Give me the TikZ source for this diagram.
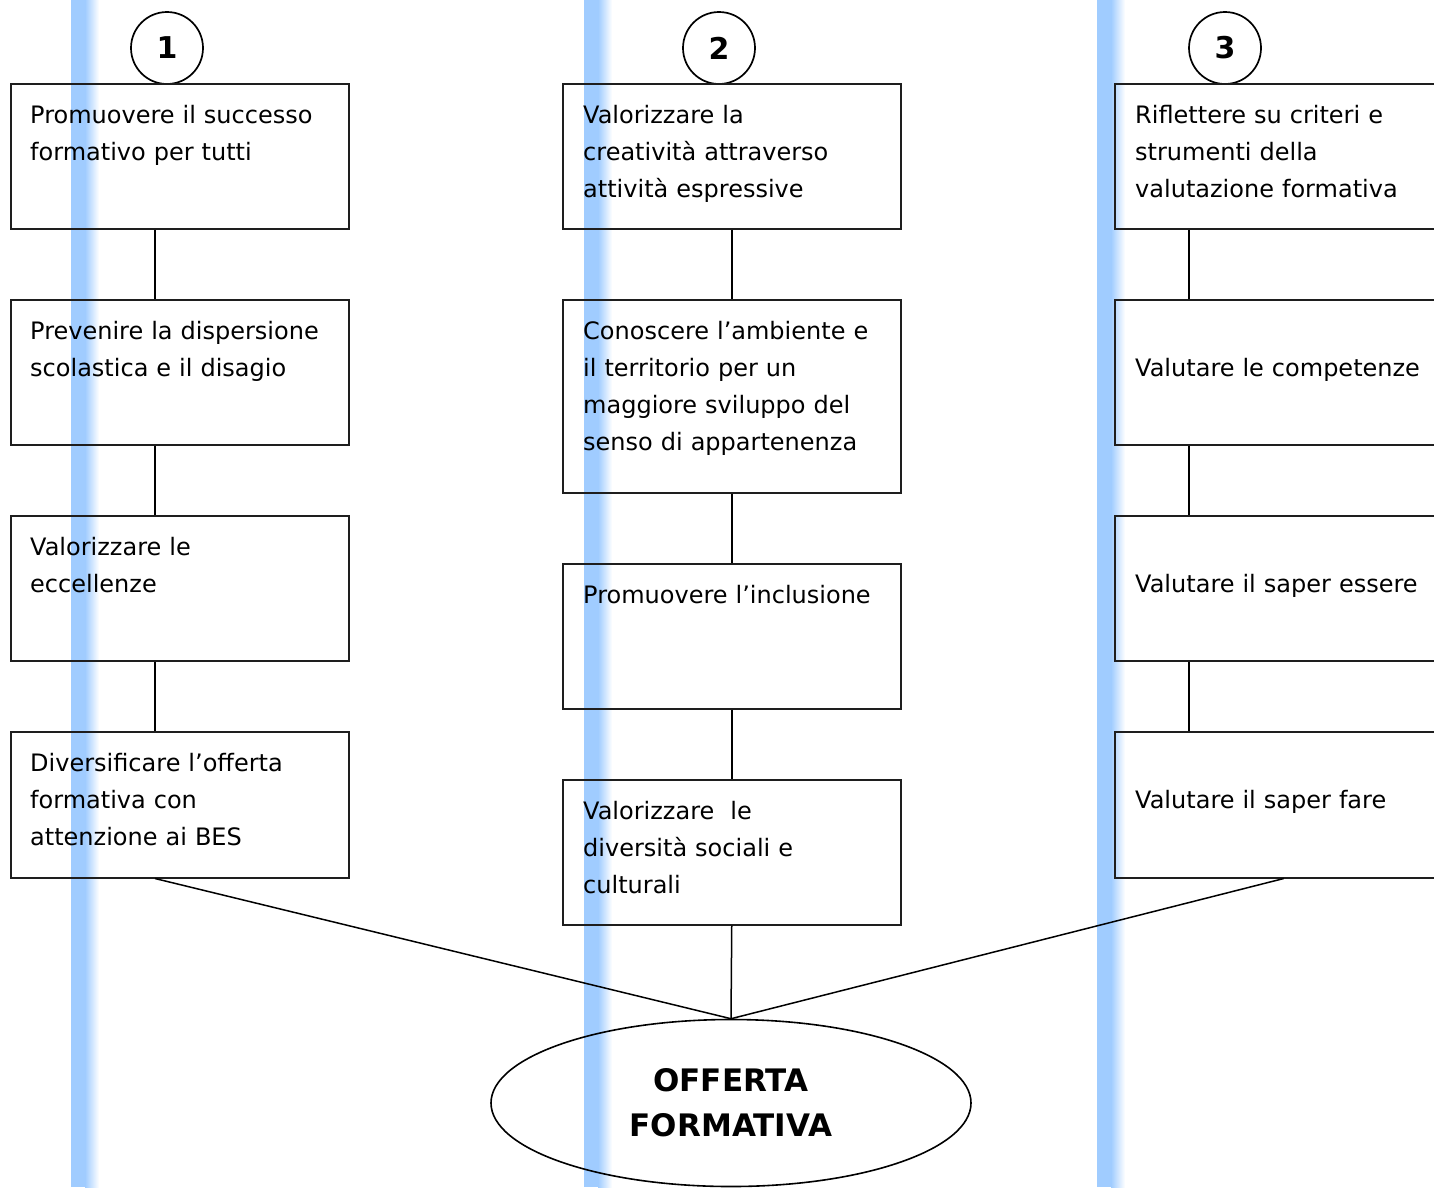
\documentclass[tikz,border=0pt]{standalone}
\usepackage{fontspec}
\setmainfont{DejaVu Sans}
\usetikzlibrary{calc,shapes.geometric}
\definecolor{stripeblue}{RGB}{160,204,255}
\definecolor{edge}{RGB}{30,30,30}
\begin{document}
\begin{tikzpicture}[x=1pt,y=-1pt,
  goalbox/.style={draw=edge,line width=1.5pt,minimum width=338pt,inner sep=0pt,anchor=north west},
  goaltext/.style={anchor=base west,inner sep=0pt,text width=330pt,align=left,
    font=\fontsize{24}{37}\selectfont},
  numcircle/.style={draw=black,line width=1.7pt,circle,minimum size=72pt,inner sep=0pt,
    font=\fontsize{30}{30}\selectfont\bfseries},
  link/.style={draw=black,line width=1.5pt}]
\useasboundingbox (0,0) rectangle (1434,1187);
\clip (0,0) rectangle (1434,1187);
\fill[white] (0,0) rectangle (1434,1187);

% vertical shaded stripes
\foreach \sx in {71,584,1097}{
  \fill[stripeblue] (\sx,0) rectangle (\sx+14,1187);
  \shade[left color=stripeblue,right color=white] (\sx+14,0) rectangle (\sx+28,1187);
}

% column heads
\node[numcircle] (n1) at (167,48) {1};
\node[numcircle] (n2) at (719,48) {2};
\node[numcircle] (n3) at (1225,48) {3};

% column 1
\node[goalbox,minimum height=145pt] (a1) at (10,83) {};
\node[goalbox,minimum height=145pt] (a2) at (10,299) {};
\node[goalbox,minimum height=145pt] (a3) at (10,515) {};
\node[goalbox,minimum height=146pt] (a4) at (10,731) {};
\node[goaltext] (ta1) at ($(a1.north west)+(20,40)$) {Promuovere il successo\\formativo per tutti};
\node[goaltext] (ta2) at ($(a2.north west)+(20,40)$) {Prevenire la dispersione\\scolastica e il disagio};
\node[goaltext] (ta3) at ($(a3.north west)+(20,40)$) {Valorizzare le\\eccellenze};
\node[goaltext] (ta4) at ($(a4.north west)+(20,40)$) {Diversificare l’offerta\\formativa con\\attenzione ai BES};

% column 2
\node[goalbox,minimum height=145pt] (b1) at (562,83) {};
\node[goalbox,minimum height=193pt] (b2) at (562,299) {};
\node[goalbox,minimum height=145pt] (b3) at (562,563) {};
\node[goalbox,minimum height=145pt] (b4) at (562,779) {};
\node[goaltext] (tb1) at ($(b1.north west)+(21,40)$) {Valorizzare la\\creatività attraverso\\attività espressive};
\node[goaltext] (tb2) at ($(b2.north west)+(21,40)$) {Conoscere l’ambiente e\\il territorio per un\\maggiore sviluppo del\\senso di appartenenza};
\node[goaltext] (tb3) at ($(b3.north west)+(21,40)$) {Promuovere l’inclusione};
\node[goaltext] (tb4) at ($(b4.north west)+(21,40)$) {Valorizzare\ \ le\\diversità sociali e\\culturali};

% column 3
\node[goalbox,minimum height=145pt] (c1) at (1114,83) {};
\node[goalbox,minimum height=145pt] (c2) at (1114,299) {};
\node[goalbox,minimum height=145pt] (c3) at (1114,515) {};
\node[goalbox,minimum height=146pt] (c4) at (1114,731) {};
\node[goaltext] (tc1) at ($(c1.north west)+(21,40)$) {Riflettere su criteri e\\strumenti della\\valutazione formativa};
\node[goaltext] (tc2) at ($(c2.north west)+(21,77)$) {Valutare le competenze};
\node[goaltext] (tc3) at ($(c3.north west)+(21,77)$) {Valutare il saper essere};
\node[goaltext] (tc4) at ($(c4.north west)+(21,77)$) {Valutare il saper fare};

% result
\node[draw=black,line width=1.6pt,ellipse,minimum width=480pt,minimum height=167pt,inner sep=0pt,
  align=center,font=\fontsize{31}{45}\selectfont\bfseries] (off) at (731,1103) {OFFERTA\\FORMATIVA};

% connectors
\coordinate (x1) at (155,0);
\coordinate (x3) at (1189,0);
\draw[link] (a1.south -| x1) -- (a2.north -| x1);
\draw[link] (a2.south -| x1) -- (a3.north -| x1);
\draw[link] (a3.south -| x1) -- (a4.north -| x1);
\draw[link] (b1.south) -- (b2.north);
\draw[link] (b2.south) -- (b3.north);
\draw[link] (b3.south) -- (b4.north);
\draw[link] (c1.south -| x3) -- (c2.north -| x3);
\draw[link] (c2.south -| x3) -- (c3.north -| x3);
\draw[link] (c3.south -| x3) -- (c4.north -| x3);
\draw[link] (a4.south -| x1) -- (off.north);
\draw[link] (b4.south) -- (off.north);
\draw[link] (c4.south) -- (off.north);
\end{tikzpicture}
\end{document}
